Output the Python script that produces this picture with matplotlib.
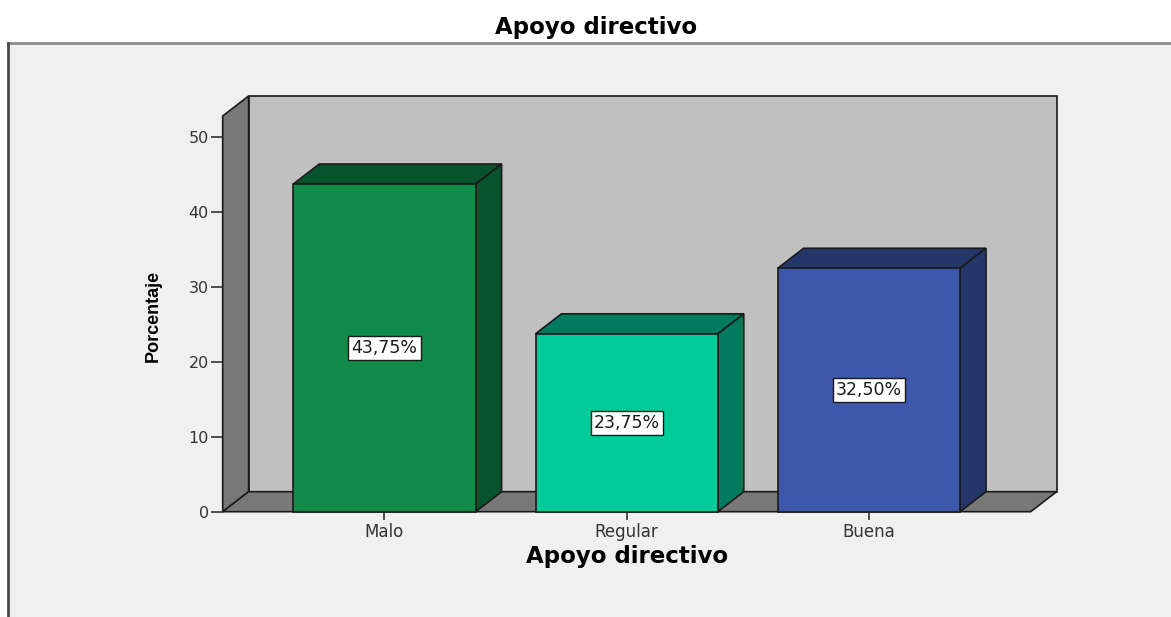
import matplotlib
matplotlib.use('Agg')
import matplotlib.pyplot as plt
from matplotlib.patches import Polygon, Rectangle
from matplotlib.lines import Line2D

# Data
categories = ['Malo', 'Regular', 'Buena']
percentages = [43.75, 23.75, 32.50]
labels = ['43,75%', '23,75%', '32,50%']
front_colors = ['#108a48', '#00cc99', '#3d58aa']
dark_colors = ['#07532c', '#007a5c', '#25366b']
yticks = [0, 10, 20, 30, 40, 50]

# 3D look settings (depth offset in data units)
xmin, xmax = -0.668, 2.668
ymax = 52.83
DX, DY = 0.107, 2.67
bar_w = 0.753

fig = plt.figure(figsize=(11.71, 6.17), dpi=100)
fig.patch.set_facecolor('white')

# outer grey panel
fig.patches.append(Rectangle((8 / 1171, -0.01), 1.02, 1.01 - 42.5 / 617,
                             transform=fig.transFigure, facecolor='#f0f0f0',
                             edgecolor='none', zorder=-2))
fig.lines.append(Line2D([8 / 1171, 1.0], [1 - 42.5 / 617] * 2, transform=fig.transFigure,
                        color='#8c8c8c', lw=2, zorder=-1))
fig.lines.append(Line2D([8 / 1171] * 2, [0, 1 - 42.5 / 617], transform=fig.transFigure,
                        color='#4a4a4a', lw=2, zorder=-1))

ax = fig.add_axes([222.7 / 1171, 1 - 511.7 / 617, 808 / 1171, (511.7 - 116) / 617])
ax.set_zorder(1)
ax.set_xlim(xmin, xmax)
ax.set_ylim(0, ymax)
ax.patch.set_visible(False)
for s in ax.spines.values():
    s.set_visible(False)

edge = dict(edgecolor='#1a1a1a', linewidth=1.2, clip_on=False)

# walls and floor
back = Polygon([(xmin + DX, DY), (xmax + DX, DY), (xmax + DX, ymax + DY), (xmin + DX, ymax + DY)],
               facecolor='#c0c0c0', zorder=1, **edge)
left = Polygon([(xmin, 0), (xmin + DX, DY), (xmin + DX, ymax + DY), (xmin, ymax)],
               facecolor='#787878', zorder=2, **edge)
floor = Polygon([(xmin, 0), (xmax, 0), (xmax + DX, DY), (xmin + DX, DY)],
                facecolor='#787878', zorder=2, **edge)
for p in (back, left, floor):
    ax.add_patch(p)

# bars
for i, (v, fc, dc, lab) in enumerate(zip(percentages, front_colors, dark_colors, labels)):
    x0, x1 = i - bar_w / 2, i + bar_w / 2
    ax.add_patch(Polygon([(x0, v), (x1, v), (x1 + DX, v + DY), (x0 + DX, v + DY)],
                         facecolor=dc, zorder=3, **edge))
    ax.add_patch(Polygon([(x1, 0), (x1 + DX, DY), (x1 + DX, v + DY), (x1, v)],
                         facecolor=dc, zorder=3, **edge))
    ax.add_patch(Polygon([(x0, 0), (x1, 0), (x1, v), (x0, v)],
                         facecolor=fc, zorder=4, **edge))
    ax.text(i, v / 2, lab, ha='center', va='center', fontsize=12.5, color='#1a1a1a',
            zorder=5, bbox=dict(boxstyle='square,pad=0.18', facecolor='white',
                                edgecolor='#1a1a1a', linewidth=1))

ax.set_yticks(yticks)
ax.set_xticks(range(len(categories)))
ax.set_xticklabels(categories)
ax.tick_params(axis='y', length=9, width=1.2, pad=1, labelsize=11.5, colors='#333333')
ax.tick_params(axis='x', length=6, width=1.2, pad=2, labelsize=12, colors='#333333')

fig.text(596 / 1171, 1 - 34 / 617, 'Apoyo directivo', ha='center', va='baseline',
         fontsize=16.5, fontweight='bold', color='black')
fig.text(626.7 / 1171, 1 - 563 / 617, 'Apoyo directivo', ha='center', va='baseline',
         fontsize=16.5, fontweight='bold', color='black')
fig.text(153.5 / 1171, 1 - 316 / 617, 'Porcentaje', ha='center', va='center', rotation=90,
         fontsize=13, fontweight='bold', color='black', family='Liberation Sans')

fig.savefig('out.png', dpi=100, facecolor=fig.get_facecolor())
